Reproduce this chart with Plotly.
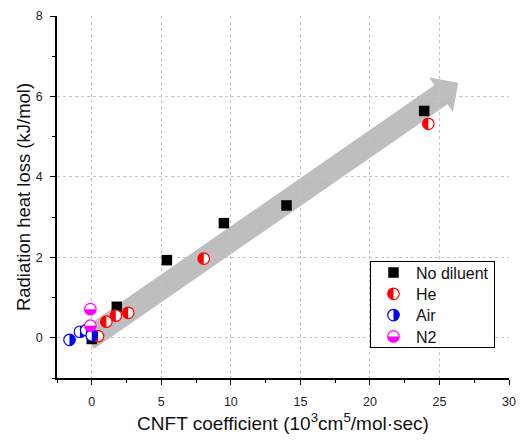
import math
import plotly.graph_objects as go

# ---------------- data ----------------
nod_x = [0.0, 1.8, 5.4, 9.5, 14.0, 23.9]
nod_y = [-0.03, 0.77, 1.93, 2.85, 3.29, 5.64]

he_x = [0.45, 1.05, 1.73, 2.62, 8.05, 24.2]
he_y = [0.04, 0.40, 0.55, 0.62, 1.97, 5.32]

air_x = [-1.6, -0.85, -0.4, 0.0]
air_y = [-0.05, 0.15, 0.19, 0.06]

n2_x = [-0.1, -0.1]
n2_y = [0.71, 0.30]

series_names = ["No diluent", "He", "Air", "N2"]
series_colors = ["#000000", "#FF0000", "#0000FF", "#FF00FF"]

x_range = [-2.5, 30]
y_range = [-1, 8]
x_title = "CNFT coefficient (10<sup>3</sup>cm<sup>5</sup>/mol·sec)"
y_title = "Radiation heat loss (kJ/mol)"

# arrow (decorative trend arrow), data coords + pixel widths
arrow_tail = (-0.3, -0.04)
arrow_tip = (26.35, 6.34)
arrow_body_px = 23
arrow_head_px = 42
arrow_headlen_px = 21

# ---------------- layout geometry ----------------
FW, FH = 521, 440
ML, MR, MT, MB = 57, 12, 16, 62
PW, PH = FW - ML - MR, FH - MT - MB
sx = PW / (x_range[1] - x_range[0])
sy = PH / (y_range[1] - y_range[0])


def arrow_path():
    tx, ty = arrow_tail[0] * sx, arrow_tail[1] * sy
    px, py = arrow_tip[0] * sx, arrow_tip[1] * sy
    L = math.hypot(px - tx, py - ty)
    ux, uy = (px - tx) / L, (py - ty) / L
    nx, ny = -uy, ux
    bx, by = px - arrow_headlen_px * ux, py - arrow_headlen_px * uy
    hb, hh = arrow_body_px / 2, arrow_head_px / 2
    pts = [
        (tx + hb * nx, ty + hb * ny),
        (bx + hb * nx, by + hb * ny),
        (bx + hh * nx, by + hh * ny),
        (px, py),
        (bx - hh * nx, by - hh * ny),
        (bx - hb * nx, by - hb * ny),
        (tx - hb * nx, ty - hb * ny),
    ]
    return "M" + " L".join(f"{X / sx:.4f},{Y / sy:.4f}" for X, Y in pts) + " Z"


FONT = "Arial, 'Liberation Sans', sans-serif"

fig = go.Figure()
# base subplot (x / y) carries only the arrow; data subplot (x2 / y2) on top, same area
fig.add_trace(go.Scatter(x=[], y=[], xaxis="x", yaxis="y", showlegend=False, hoverinfo="skip",
                         name="_base"))
fig.add_trace(go.Scatter(
    x=nod_x, y=nod_y, mode="markers", name=series_names[0], xaxis="x2", yaxis="y2",
    marker=dict(symbol="square", size=10.5, color=series_colors[0], line=dict(width=0)),
))
for xs, ys, nm, col in [(he_x, he_y, series_names[1], series_colors[1]),
                        (air_x, air_y, series_names[2], series_colors[2]),
                        (n2_x, n2_y, series_names[3], series_colors[3])]:
    fig.add_trace(go.Scatter(
        x=xs, y=ys, mode="markers", name=nm, xaxis="x2", yaxis="y2",
        marker=dict(symbol="circle", size=11.5, color="white", line=dict(width=1.2, color=col)),
    ))

fig.add_shape(type="path", path=arrow_path(), xref="x", yref="y",
              fillcolor="#BEBEBE", line=dict(width=0), layer="below")

axis_common = dict(
    showline=True, linecolor="black", linewidth=1.5,
    ticks="outside", ticklen=5, tickwidth=1.2, tickcolor="black",
    showgrid=True, gridcolor="#C4C4C4", griddash="dot", gridwidth=1,
    zeroline=False, mirror=False,
    tickfont=dict(family=FONT, size=12.5, color="#222"),
)
base_common = dict(
    showgrid=False, showticklabels=False, ticks="", showline=False, zeroline=False, domain=[0, 1],
)

fig.update_layout(
    xaxis=dict(range=x_range, anchor="y", **base_common),
    yaxis=dict(range=y_range, anchor="x", **base_common),
    xaxis2=dict(
        range=x_range, tick0=0, dtick=5, anchor="y2", domain=[0, 1],
        minor=dict(ticks="outside", ticklen=3, dtick=2.5, tick0=0, tickcolor="black", showgrid=False),
        title=dict(text=x_title, font=dict(family=FONT, size=19, color="#111"), standoff=9),
        ticklabelstandoff=6,
        **axis_common,
    ),
    yaxis2=dict(
        range=y_range, tick0=0, dtick=2, anchor="x2", domain=[0, 1],
        minor=dict(ticks="outside", ticklen=3, dtick=1, tick0=0, tickcolor="black", showgrid=False),
        title=dict(text=y_title, font=dict(family=FONT, size=18.5, color="#111"), standoff=0),
        ticklabelstandoff=5,
        **axis_common,
    ),
)

LEG_LEFT, LEG_TOP = 370, 261
LEG_FIRST_OFF, LEG_ROW, LEG_H = 11, 21.3, 86

fig.update_layout(
    width=FW, height=FH,
    margin=dict(l=ML, r=MR, t=MT, b=MB, autoexpand=False),
    paper_bgcolor="white", plot_bgcolor="rgba(0,0,0,0)",
    showlegend=True,
    legend=dict(
        x=(LEG_LEFT - ML) / PW, y=1 - (LEG_TOP - MT) / PH, xanchor="left", yanchor="top",
        bgcolor="white", bordercolor="black", borderwidth=1,
        font=dict(family=FONT, size=16, color="#111"),
        tracegroupgap=0, itemwidth=35,
    ),
)

post_js = r"""
document.body.style.margin = '0';
document.body.style.padding = '0';
var gd = document.getElementById('{plot_id}');
var halves = {'He': ['left', 'rgb(255,0,0)'], 'Air': ['right', 'rgb(0,0,255)'], 'N2': ['bottom', 'rgb(255,0,255)']};
function hp(r, side) {
  if (side === 'left') return 'M0,-' + r + 'A' + r + ',' + r + ' 0 0,0 0,' + r + 'Z';
  if (side === 'right') return 'M0,-' + r + 'A' + r + ',' + r + ' 0 0,1 0,' + r + 'Z';
  return 'M-' + r + ',0A' + r + ',' + r + ' 0 0,0 ' + r + ',0Z';
}
function addHalves(paths, side, col) {
  paths.forEach(function (p) {
    var d = p.getAttribute('d') || '';
    var m = d.match(/^M([\d.]+),0/);
    var r = m ? parseFloat(m[1]) : 6;
    var q = p.cloneNode(false);
    q.setAttribute('d', hp(r, side));
    q.style.fill = col; q.style.stroke = 'none';
    q.setAttribute('class', 'halfpt');
    p.parentNode.insertBefore(q, p.nextSibling);
  });
}
function nameOf(el) {
  try { var d = el.__data__; return d[0].trace.name; } catch (e) { return null; }
}
gd.querySelectorAll('.scatterlayer .trace').forEach(function (t) {
  var h = halves[nameOf(t)];
  if (h) addHalves(t.querySelectorAll('path.point'), h[0], h[1]);
});
var leg = gd.querySelectorAll('.legend .traces');
leg.forEach(function (t) {
  var h = halves[nameOf(t)];
  if (h) addHalves(t.querySelectorAll('path.scatterpts'), h[0], h[1]);
});
// tighten legend rows to the reference spacing
try {
  var bg = gd.querySelector('.legend rect.bg');
  var box = bg.getBoundingClientRect();
  leg.forEach(function (t, i) {
    var pt = t.querySelector('path.scatterpts');
    if (!pt) return;
    var r = pt.getBoundingClientRect();
    var cy = (r.top + r.bottom) / 2;
    var want = box.top + FIRST_OFF + ROW * i;
    var tr = t.getAttribute('transform') || 'translate(0,0)';
    var m = tr.match(/translate\(\s*([-\d.e]+)[ ,]+([-\d.e]+)\s*\)/);
    var tx = m ? parseFloat(m[1]) : 0, ty = m ? parseFloat(m[2]) : 0;
    t.setAttribute('transform', 'translate(' + tx + ',' + (ty + want - cy) + ')');
  });
  bg.setAttribute('height', LEG_H);
} catch (e) {}
"""
post_js = (post_js.replace("FIRST_OFF", str(LEG_FIRST_OFF))
           .replace("ROW", str(LEG_ROW)).replace("LEG_H", str(LEG_H)))

fig.write_html("out.html", post_script=post_js, config={"displayModeBar": False})
